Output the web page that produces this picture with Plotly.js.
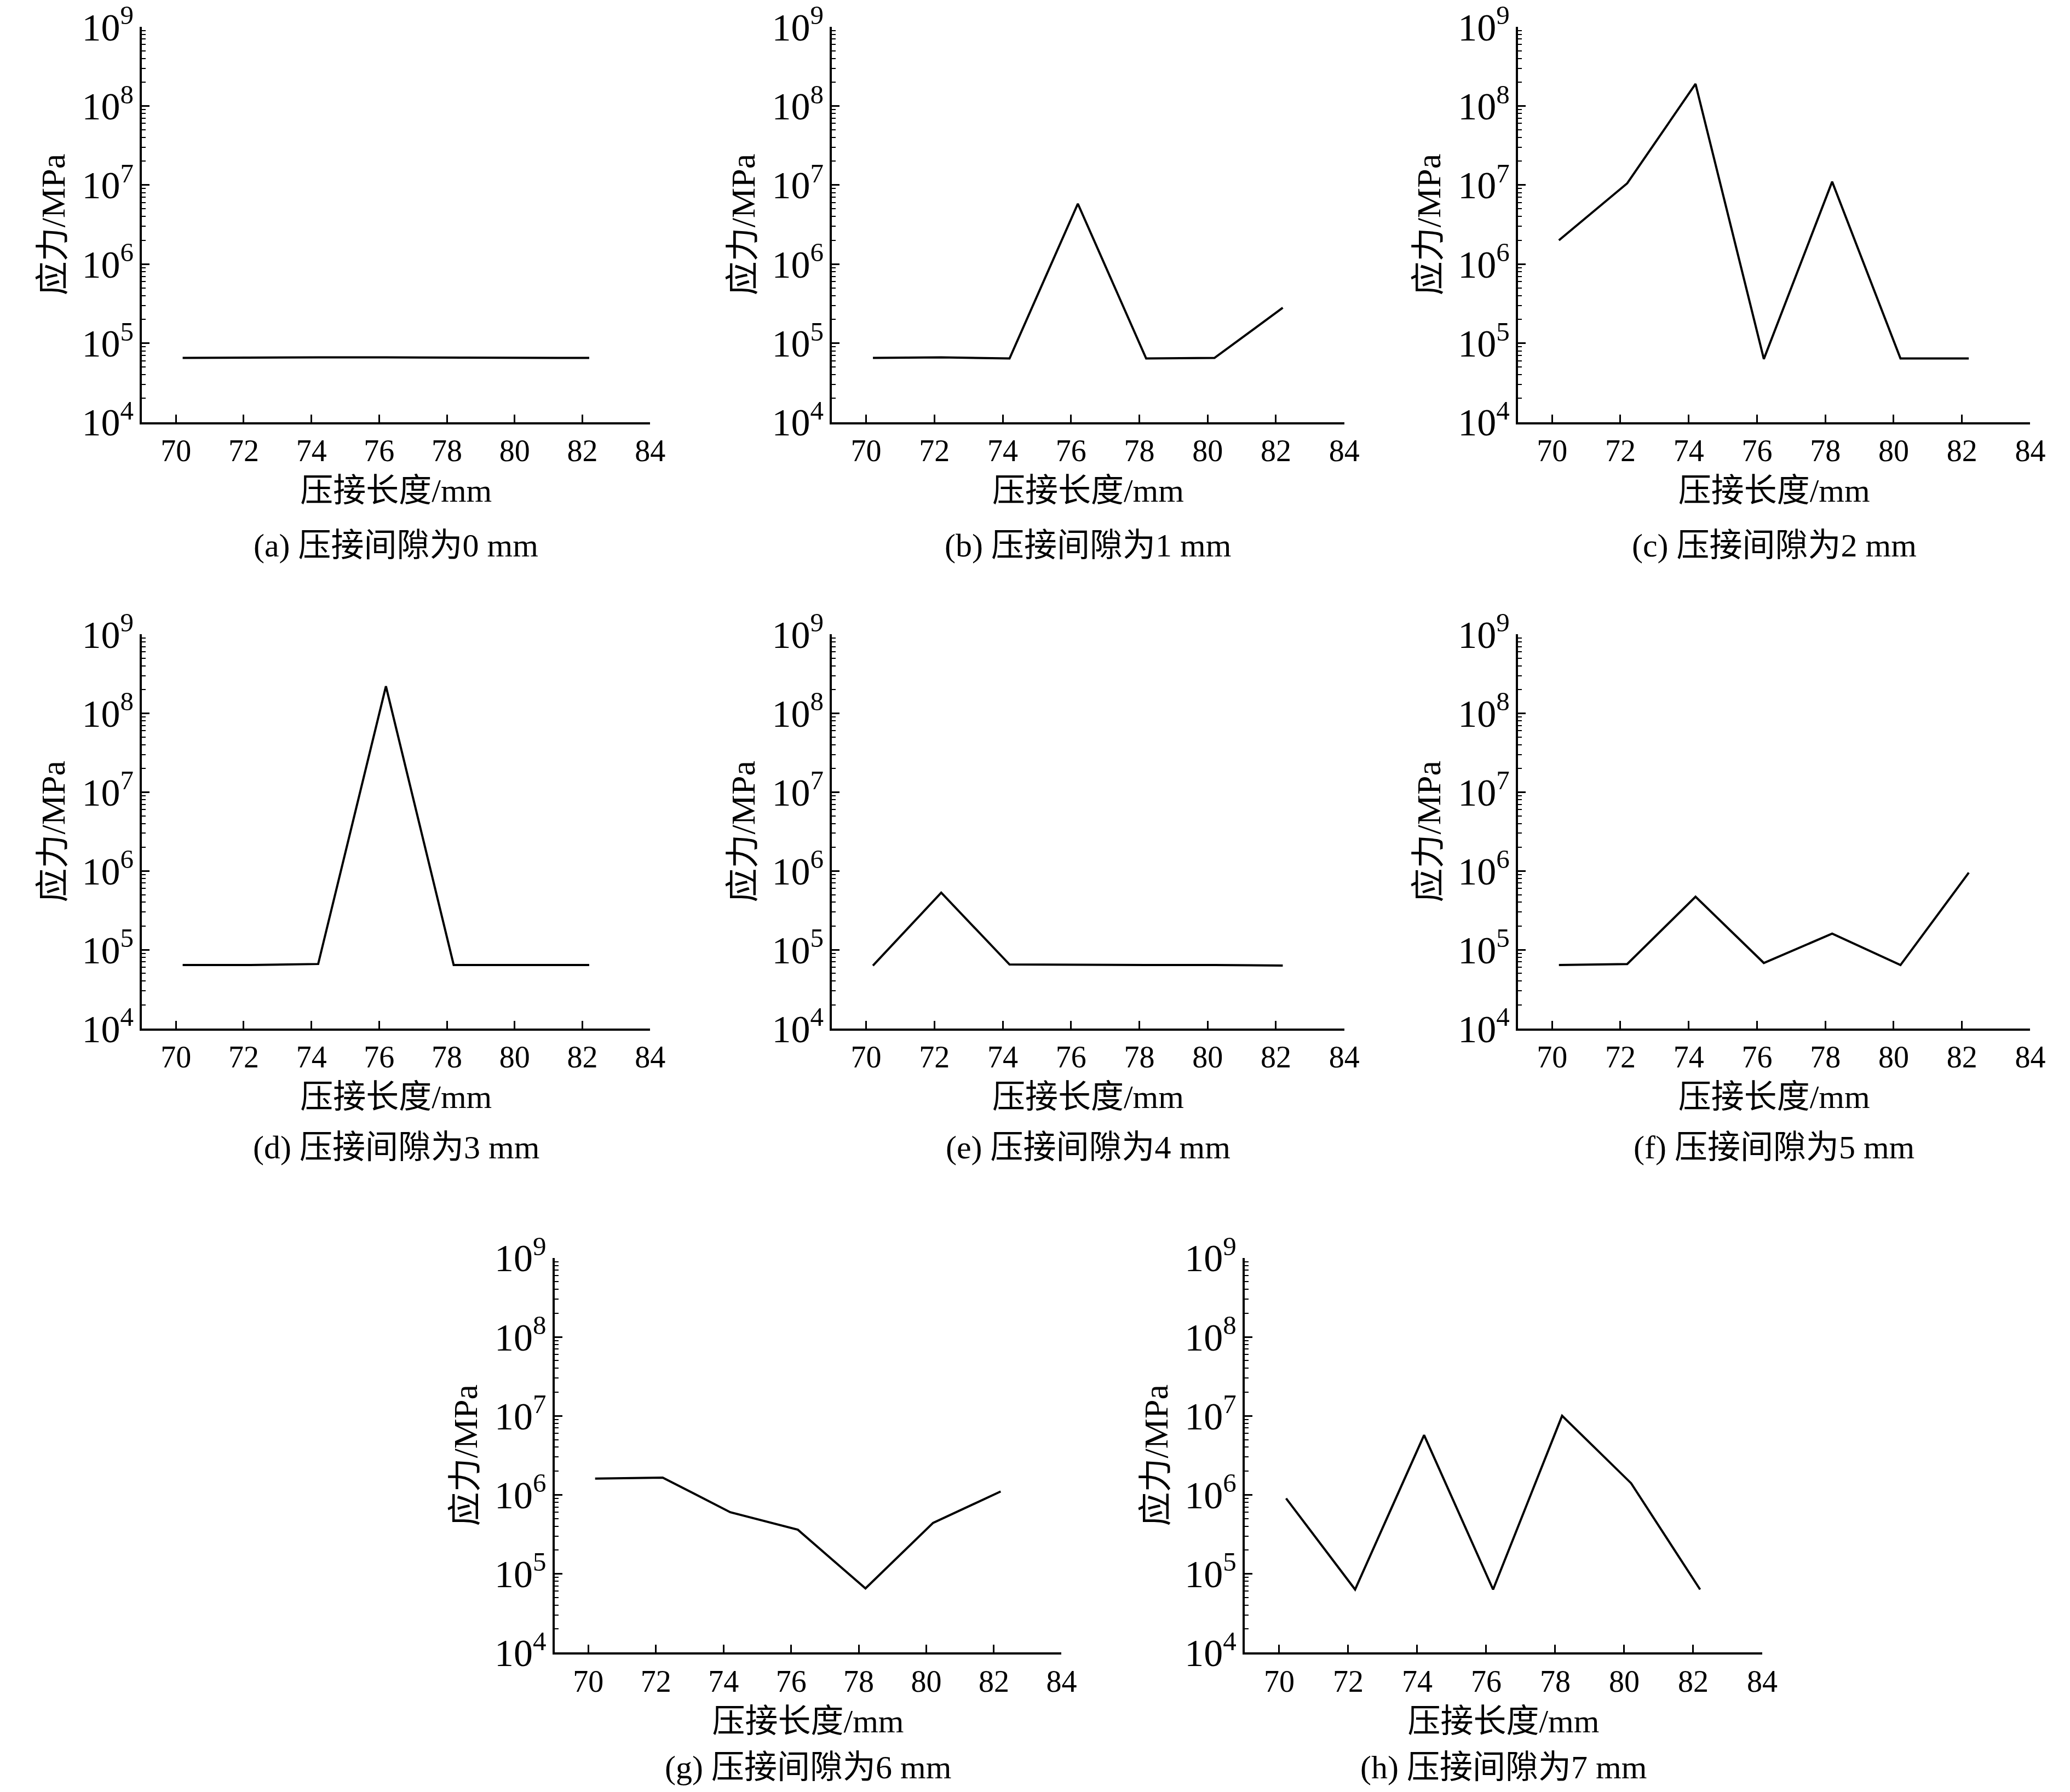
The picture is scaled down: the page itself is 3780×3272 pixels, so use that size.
<!DOCTYPE html>
<html><head><meta charset="utf-8">
<script src="https://cdn.plot.ly/plotly-3.0.1.min.js"></script>
<style>body{margin:0;background:#fff}</style>
</head><body>
<div id="chart" style="width:3780px;height:3272px"></div>
<script>
var xVals = [70.2, 72.2, 74.2, 76.2, 78.2, 80.2, 82.2];
var gapA = [6.5e4, 6.6e4, 6.6e4, 6.6e4, 6.6e4, 6.5e4, 6.5e4];
var gapB = [6.5e4, 6.6e4, 6.4e4, 5.8e6, 6.4e4, 6.5e4, 2.8e5];
var gapC = [2.0e6, 1.05e7, 1.9e8, 6.3e4, 1.1e7, 6.4e4, 6.4e4];
var gapD = [6.4e4, 6.4e4, 6.6e4, 2.2e8, 6.4e4, 6.4e4, 6.4e4];
var gapE = [6.3e4, 5.3e5, 6.5e4, 6.4e4, 6.4e4, 6.4e4, 6.3e4];
var gapF = [6.4e4, 6.6e4, 4.7e5, 6.8e4, 1.6e5, 6.4e4, 9.5e5];
var gapG = [1.6e6, 1.65e6, 6.0e5, 3.6e5, 6.5e4, 4.4e5, 1.1e6];
var gapH = [9.0e5, 6.3e4, 5.7e6, 6.3e4, 1.0e7, 1.4e6, 6.3e4];
var captions = ["(a) 压接间隙为0 mm","(b) 压接间隙为1 mm","(c) 压接间隙为2 mm","(d) 压接间隙为3 mm",
  "(e) 压接间隙为4 mm","(f) 压接间隙为5 mm","(g) 压接间隙为6 mm","(h) 压接间隙为7 mm"];
var series = [gapA, gapB, gapC, gapD, gapE, gapF, gapG, gapH];

var font = "Liberation Serif, Noto Sans CJK SC, serif";
var xDom = [[0.0686,0.3141],[0.4019,0.6494],[0.7333,0.9808],
            [0.0686,0.3141],[0.4019,0.6494],[0.7333,0.9808],
            [0.2679,0.5128],[0.6013,0.8513]];
var yDom = [[0.7644,0.985],[0.7644,0.985],[0.7644,0.985],
            [0.426,0.646],[0.426,0.646],[0.426,0.646],
            [0.0778,0.298],[0.0778,0.298]];
var capY = [0.685,0.685,0.685,0.349,0.349,0.349,0.003,0.003];

var data = [], layout = {
  width: 3780, height: 3272, showlegend: false,
  paper_bgcolor: "#fff", plot_bgcolor: "#fff",
  margin: {l: 0, r: 0, t: 0, b: 0},
  font: {family: font, size: 56, color: "#000"},
  annotations: []
};
series.forEach(function(s, i) {
  var n = i + 1, xa = "x" + (n > 1 ? n : ""), ya = "y" + (n > 1 ? n : "");
  data.push({x: xVals, y: s, xaxis: xa, yaxis: ya, mode: "lines",
    line: {color: "#000", width: 4}});
  layout["xaxis" + (n > 1 ? n : "")] = {
    domain: xDom[i], anchor: ya, range: [69, 84], tickvals: [70,72,74,76,78,80,82,84],
    showgrid: false, zeroline: false, showline: true, linecolor: "#000", linewidth: 4,
    ticks: "inside", ticklen: 14, tickwidth: 3, tickcolor: "#000",
    tickfont: {size: 56, family: font},
    title: {text: "压接长度/mm", font: {size: 60, family: font}, standoff: 22}
  };
  layout["yaxis" + (n > 1 ? n : "")] = {
    domain: yDom[i], anchor: xa, type: "log", range: [4, 9], dtick: 1,
    exponentformat: "power", showgrid: false, zeroline: false,
    showline: true, linecolor: "#000", linewidth: 4,
    ticks: "inside", ticklen: 14, tickwidth: 3, tickcolor: "#000",
    minor: {ticks: "inside", ticklen: 7, tickwidth: 2, tickcolor: "#000", dtick: "D1", showgrid: false},
    tickfont: {size: 56, family: font},
    title: {text: "应力/MPa", font: {size: 62, family: font}, standoff: 12}
  };
  layout.annotations.push({text: captions[i], xref: "paper", yref: "paper",
    x: (xDom[i][0] + xDom[i][1]) / 2, y: capY[i], yanchor: "bottom", xanchor: "center",
    showarrow: false, font: {size: 60, family: font}});
});
Plotly.newPlot("chart", data, layout, {displayModeBar: false});
</script>
</body></html>
